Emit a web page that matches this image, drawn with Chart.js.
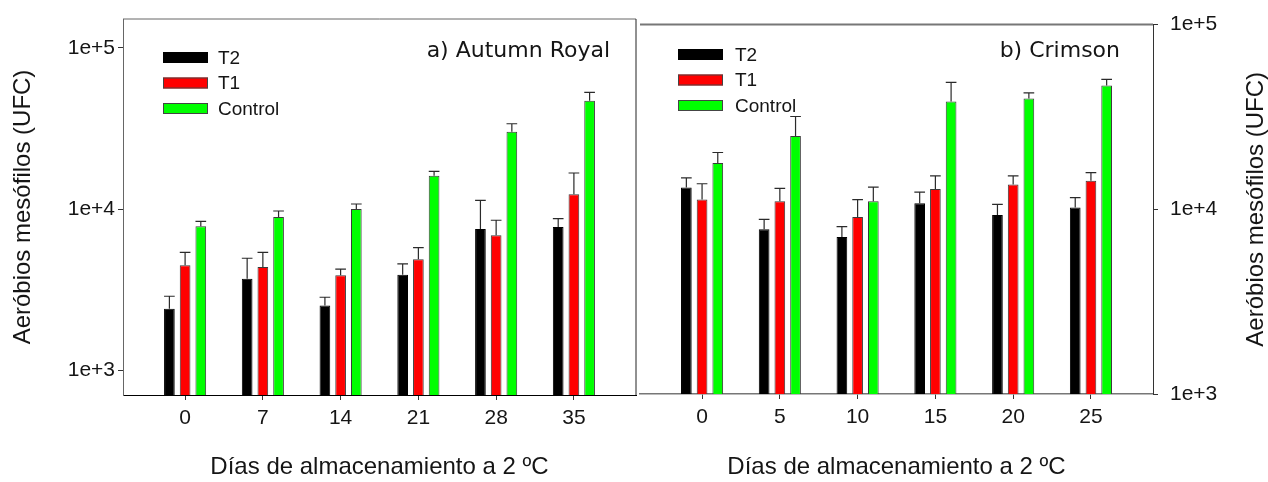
<!DOCTYPE html>
<html>
<head>
<meta charset="utf-8">
<script src="https://cdn.jsdelivr.net/npm/chart.js@4.4.0/dist/chart.umd.min.js"></script>
<style>
  html, body { margin: 0; padding: 0; background: #ffffff; }
  #wrap { position: relative; width: 1268px; height: 482px; overflow: hidden; }
  #wrap canvas { position: absolute; top: 0; }
  #cA { left: 0; }
  #cB { left: 638px; }
</style>
</head>
<body>
<div id="wrap">
  <canvas id="cA" width="638" height="482"></canvas>
  <canvas id="cB" width="630" height="482"></canvas>
</div>
<script>
// Treatments
const seriesNames = ['T2', 'T1', 'Control'];

// a) Autumn Royal — storage days and mesophilic aerobe counts (UFC), upper error
const daysA = [0, 7, 14, 21, 28, 35];
const t2A = [2420, 3710, 2530, 3930, 7540, 7760];
const t2ErrA = [470, 1260, 320, 650, 3810, 980];
const t1A = [4490, 4390, 3900, 4900, 6890, 12370];
const t1ErrA = [920, 1020, 360, 880, 1650, 4380];
const ctrlA = [7830, 8950, 10030, 16120, 30200, 46960];
const ctrlErrA = [580, 800, 740, 1050, 3630, 5980];

// b) Crimson
const daysB = [0, 5, 10, 15, 20, 25];
const t2B = [13140, 7800, 7070, 10790, 9300, 10230];
const t2ErrB = [1670, 1030, 980, 1610, 1320, 1340];
const t1B = [11290, 11060, 9080, 12870, 13630, 14270];
const t1ErrB = [2460, 1920, 2210, 2310, 1550, 1530];
const ctrlB = [17820, 24940, 11060, 38380, 39830, 46750];
const ctrlErrB = [2480, 6860, 2130, 10320, 2890, 3770];

// Axis text
const yTickValues = [1000, 10000, 100000];
const yTickLabels = ['1e+3', '1e+4', '1e+5'];
const panelTitleA = 'a) Autumn Royal';
const panelTitleB = 'b) Crimson';
const xAxisTitle = 'Días de almacenamiento a 2 ºC';
const yAxisTitle = 'Aeróbios mesófilos (UFC)';

const seriesColors = ['#000000', '#ff0000', '#00ff00'];
const FONT = "'Liberation Sans', Arial, sans-serif";
const TEXT = '#151515';

function makeDatasets(days, values, errors) {
  return values.map((vals, s) => ({
    label: seriesNames[s],
    data: days.map((d, i) => ({ x: d, y: vals[i] })),
    errors: errors[s],
    backgroundColor: seriesColors[s],
    borderColor: s === 0 ? '#000000' : '#3a3a3a',
    borderWidth: 1,
    categoryPercentage: 0.606,
    barPercentage: 0.68
  }));
}

// upward error bars with a cap as wide as the bar
const errorBars = {
  id: 'errorBars',
  afterDatasetsDraw(chart) {
    const ctx = chart.ctx;
    const ys = chart.scales.y;
    ctx.save();
    ctx.strokeStyle = '#2a2a2a';
    ctx.lineWidth = 1.2;
    chart.data.datasets.forEach((ds, di) => {
      chart.getDatasetMeta(di).data.forEach((bar, i) => {
        const top = ys.getPixelForValue(ds.data[i].y + ds.errors[i]);
        const half = bar.width / 2;
        ctx.beginPath();
        ctx.moveTo(bar.x, bar.y);
        ctx.lineTo(bar.x, top);
        ctx.moveTo(bar.x - half, top);
        ctx.lineTo(bar.x + half, top);
        ctx.stroke();
      });
    });
    ctx.restore();
  }
};

// extra frame lines around the plot area
const frameLines = {
  id: 'frameLines',
  afterDraw(chart, args, opts) {
    const ctx = chart.ctx;
    const a = chart.chartArea;
    ctx.save();
    if (opts.top) {
      ctx.strokeStyle = opts.top.color;
      ctx.lineWidth = opts.top.width;
      ctx.beginPath();
      ctx.moveTo(a.left, a.top);
      ctx.lineTo(a.right, a.top);
      ctx.stroke();
    }
    if (opts.right) {
      ctx.strokeStyle = opts.right.color;
      ctx.lineWidth = opts.right.width;
      ctx.beginPath();
      ctx.moveTo(a.right, a.top);
      ctx.lineTo(a.right, a.bottom);
      ctx.stroke();
    }
    ctx.restore();
  }
};

// in-plot legend and panel title
const panelDecor = {
  id: 'panelDecor',
  afterDraw(chart, args, o) {
    const ctx = chart.ctx;
    ctx.save();
    chart.data.datasets.forEach((ds, i) => {
      const y = o.legendTop + i * o.legendStep;
      ctx.fillStyle = ds.backgroundColor;
      ctx.fillRect(o.legendX, y, o.swatchW, o.swatchH);
      ctx.strokeStyle = i === 0 ? '#000000' : '#444444';
      ctx.lineWidth = 1;
      ctx.strokeRect(o.legendX + 0.5, y + 0.5, o.swatchW - 1, o.swatchH - 1);
      ctx.fillStyle = TEXT;
      ctx.font = '19px ' + FONT;
      ctx.textAlign = 'left';
      ctx.textBaseline = 'middle';
      ctx.fillText(ds.label, o.textX, y + o.swatchH / 2 + 1);
    });
    ctx.font = "22px 'DejaVu Sans', Verdana, sans-serif";
    ctx.textAlign = 'right';
    ctx.textBaseline = 'middle';
    ctx.fillStyle = TEXT;
    ctx.fillText(o.title, o.titleRight, o.titleY);
    if (o.sideTitleX) {
      ctx.translate(o.sideTitleX, (chart.chartArea.top + chart.chartArea.bottom) / 2);
      ctx.rotate(-Math.PI / 2);
      ctx.font = '24px ' + FONT;
      ctx.textAlign = 'center';
      ctx.fillText(yAxisTitle, 0, 0);
    }
    ctx.restore();
  }
};

function buildOptions(cfg) {
  return {
    responsive: false,
    animation: false,
    events: [],
    layout: { padding: cfg.padding },
    plugins: {
      legend: { display: false },
      tooltip: { enabled: false },
      frameLines: cfg.frame,
      panelDecor: cfg.decor
    },
    scales: {
      x: {
        type: 'linear',
        min: cfg.xMin,
        max: cfg.xMax,
        bounds: 'data',
        offset: false,
        afterBuildTicks: s => { s.ticks = cfg.days.map(v => ({ value: v })); },
        afterFit: s => { s.height = cfg.xHeight; },
        grid: { offset: false, drawOnChartArea: false, drawTicks: true, tickLength: 5, color: '#333333' },
        border: { display: true, color: cfg.xBorder, width: cfg.xBorderWidth },
        ticks: { padding: 6, color: TEXT, font: { family: FONT, size: 21 }, maxRotation: 0,
                 callback: v => String(v) },
        title: { display: true, text: xAxisTitle, color: TEXT, padding: { top: 0, bottom: 0 },
                 font: { family: FONT, size: 24 } }
      },
      y: {
        type: 'logarithmic',
        position: cfg.yPos,
        min: cfg.yMin,
        max: cfg.yMax,
        bounds: 'data',
        afterBuildTicks: s => { s.ticks = yTickValues.map(v => ({ value: v })); },
        afterFit: s => { s.width = cfg.yWidth; },
        grid: { drawOnChartArea: false, drawTicks: true, tickLength: 5, color: '#333333' },
        border: { display: true, color: cfg.yBorder, width: 1 },
        ticks: { padding: cfg.yTickPad, color: TEXT, font: { family: FONT, size: 21 },
                 callback: v => yTickLabels[yTickValues.indexOf(v)] },
        title: { display: cfg.yPos === 'left', text: yAxisTitle, color: TEXT,
                 padding: { top: 9, bottom: 0 }, font: { family: FONT, size: 24 } }
      }
    }
  };
}

new Chart(document.getElementById('cA'), {
  type: 'bar',
  data: { datasets: makeDatasets(daysA, [t2A, t1A, ctrlA], [t2ErrA, t1ErrA, ctrlErrA]) },
  options: buildOptions({
    days: daysA, xMin: -5.59, xMax: 40.59, yMin: 707, yMax: 150600,
    padding: { left: 0, right: 2, top: 19, bottom: 0 },
    xHeight: 87, yWidth: 123, yPos: 'left', yTickPad: 3,
    xBorder: '#000000', xBorderWidth: 1, yBorder: '#666666',
    frame: { top: { color: '#666666', width: 1 }, right: { color: '#222222', width: 1 } },
    decor: { legendX: 163, legendTop: 52, legendStep: 25.5, swatchW: 45, swatchH: 11, textX: 218,
             title: panelTitleA, titleRight: 610, titleY: 51 }
  }),
  plugins: [errorBars, frameLines, panelDecor]
});

new Chart(document.getElementById('cB'), {
  type: 'bar',
  data: { datasets: makeDatasets(daysB, [t2B, t1B, ctrlB], [t2ErrB, t1ErrB, ctrlErrB]) },
  options: buildOptions({
    days: daysB, xMin: -3.99, xMax: 28.99, yMin: 1000, yMax: 100000,
    padding: { left: 2, right: 0, top: 21, bottom: 0 },
    xHeight: 88, yWidth: 115, yPos: 'right', yTickPad: 12,
    xBorder: '#777777', xBorderWidth: 1.5, yBorder: '#333333',
    frame: { top: { color: '#777777', width: 2 } },
    decor: { legendX: 40, legendTop: 49, legendStep: 25.5, swatchW: 45, swatchH: 11, textX: 97,
             title: panelTitleB, titleRight: 482, titleY: 51, sideTitleX: 618 }
  }),
  plugins: [errorBars, frameLines, panelDecor]
});
</script>
</body>
</html>
